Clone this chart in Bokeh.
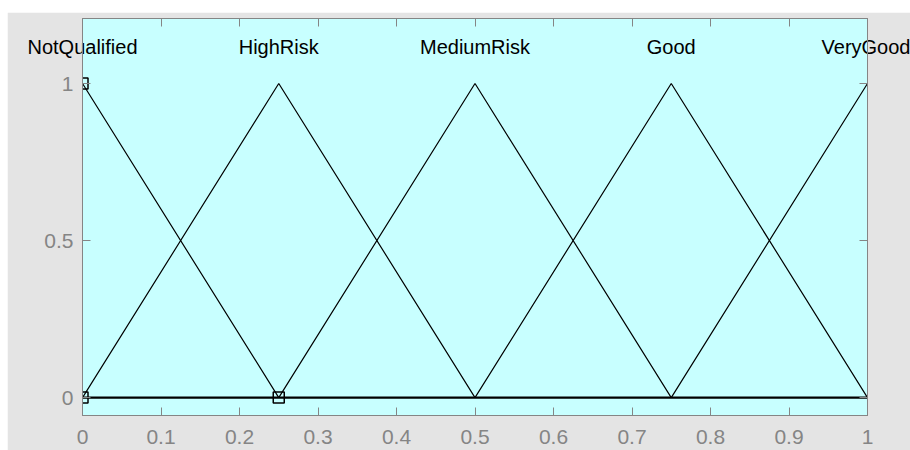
from bokeh.plotting import figure
from bokeh.models import Range1d, FixedTicker, LinearAxis, Spacer
from bokeh.layouts import row, column
from bokeh.embed import file_html
from bokeh.resources import INLINE

# Membership functions (triangular: a, b, c)
mf_names = ["NotQualified", "HighRisk", "MediumRisk", "Good", "VeryGood"]
mf_a = [-0.25, 0.0, 0.25, 0.5, 0.75]
mf_b = [0.0, 0.25, 0.5, 0.75, 1.0]
mf_c = [0.25, 0.5, 0.75, 1.0, 1.25]

x_ticks = [0, 0.1, 0.2, 0.3, 0.4, 0.5, 0.6, 0.7, 0.8, 0.9, 1]
x_tick_labels = ["0", "0.1", "0.2", "0.3", "0.4", "0.5", "0.6", "0.7", "0.8", "0.9", "1"]
y_ticks = [0, 0.5, 1]
y_tick_labels = ["0", "0.5", "1"]

# selected-MF handles
handle_x = [0, 0, 0.25]
handle_y = [1, 0, 0]

FONT = "Liberation Sans"
TICK_GRAY = "#858585"

p = figure(width=903, height=438, output_backend="svg", toolbar_location=None,
           x_range=Range1d(0, 1), y_range=Range1d(-0.057, 1.207),
           min_border_left=75, min_border_right=43, min_border_top=6, min_border_bottom=35,
           background_fill_color="#c8ffff", border_fill_color="#e4e4e4",
           outline_line_color="#8a8a8a")
p.grid.visible = False

for a, b, c in zip(mf_a, mf_b, mf_c):
    p.line([a, b, c], [0, 1, 0], line_color="black", line_width=1.2)

# baseline of the universe
p.line([x_ticks[0], x_ticks[-1]], [0, 0], line_color="black", line_width=2.2)

p.scatter(handle_x, handle_y, marker="square", size=11, fill_color=None,
          line_color="black", line_width=1.5)

def style(ax, ticks, labels, show):
    ax.ticker = FixedTicker(ticks=ticks)
    ax.major_label_overrides = {t: l for t, l in zip(ticks, labels)}
    ax.major_tick_in = 8
    ax.major_tick_out = 0
    ax.minor_tick_in = 0
    ax.minor_tick_out = 0
    ax.major_tick_line_color = TICK_GRAY
    ax.axis_line_color = TICK_GRAY
    ax.major_label_text_font = FONT
    ax.major_label_text_font_size = "21px"
    ax.major_label_text_color = TICK_GRAY if show else None
    ax.major_label_standoff = 14

style(p.xaxis[0], x_ticks, x_tick_labels, True)
style(p.yaxis[0], y_ticks, y_tick_labels, True)
p.yaxis[0].major_label_standoff = 9

# mirrored tick axes (top and right), no labels
top = LinearAxis()
right = LinearAxis()
p.add_layout(top, "above")
p.add_layout(right, "right")
style(top, x_ticks, [""] * len(x_ticks), False)
style(right, y_ticks, [""] * len(y_ticks), False)
top.major_label_text_font_size = "0px"
right.major_label_text_font_size = "0px"
top.major_label_standoff = 0
right.major_label_standoff = 0

# MF names drawn as labels of a tick-less top axis, pulled inside the frame
names_axis = LinearAxis()
p.add_layout(names_axis, "above")
names_axis.ticker = FixedTicker(ticks=mf_b)
names_axis.major_label_overrides = {t: l for t, l in zip(mf_b, mf_names)}
names_axis.major_tick_in = 0
names_axis.major_tick_out = 0
names_axis.minor_tick_in = 0
names_axis.minor_tick_out = 0
names_axis.major_tick_line_color = None
names_axis.minor_tick_line_color = None
names_axis.axis_line_color = None
names_axis.major_label_text_font = FONT
names_axis.major_label_text_font_size = "20px"
names_axis.major_label_text_color = "black"
names_axis.major_label_standoff = -39

layout = row(Spacer(width=7, height=450), column(Spacer(width=903, height=12), p))

open("out.html", "w").write(file_html(layout, INLINE))
